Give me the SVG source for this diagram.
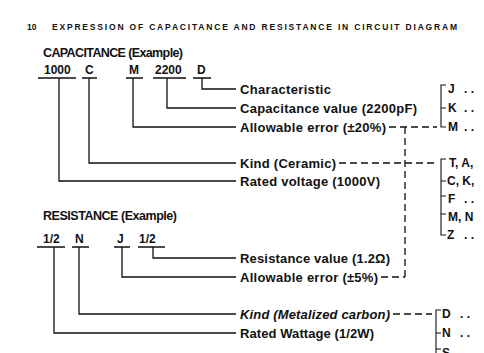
<svg xmlns="http://www.w3.org/2000/svg" width="484" height="353" viewBox="0 0 484 353">
<style>
.t{font-family:"Liberation Sans",Arial,sans-serif;font-weight:bold;fill:#111}
.ttl{font-size:8.5px}
.hd{font-size:12.5px}
.code{font-size:12px}
.lbl{font-size:13px}
.opt{font-size:12px}
.it{font-style:italic}
.ln{stroke:#111;stroke-width:1.3;fill:none}
.ul{stroke:#111;stroke-width:1.6;fill:none}
.dash{stroke:#111;stroke-width:1.3;fill:none;stroke-dasharray:7 4}
.br{stroke:#111;stroke-width:1.1;fill:none}
</style>
<rect width="484" height="353" fill="#fff"/>
<g id="title">
<text class="t ttl" x="27" y="30">10</text>
<text class="t ttl" x="52" y="30" textLength="405" lengthAdjust="spacing">EXPRESSION OF CAPACITANCE AND RESISTANCE IN CIRCUIT DIAGRAM</text>
</g>
<g id="cap-head"><text class="t hd" x="43" y="57" textLength="140" lengthAdjust="spacing">CAPACITANCE (Example)</text></g>
<g id="res-head"><text class="t hd" x="43" y="220" textLength="134" lengthAdjust="spacing">RESISTANCE (Example)</text></g>
<g id="c-1000"><text class="t code" x="44" y="74">1000</text></g>
<g id="c-C"><text class="t code" x="85" y="74">C</text></g>
<g id="c-M"><text class="t code" x="129" y="74">M</text></g>
<g id="c-2200"><text class="t code" x="155" y="74">2200</text></g>
<g id="c-D"><text class="t code" x="197" y="74">D</text></g>
<g id="r-half1"><text class="t code" x="43" y="243">1/2</text></g>
<g id="r-N"><text class="t code" x="75" y="243">N</text></g>
<g id="r-J"><text class="t code" x="117" y="243">J</text></g>
<g id="r-half2"><text class="t code" x="139" y="243">1/2</text></g>
<g id="l-char"><text class="t lbl" x="240" y="93.5" textLength="91" lengthAdjust="spacing">Characteristic</text></g>
<g id="l-capval"><text class="t lbl" x="240" y="112.5" textLength="177" lengthAdjust="spacing">Capacitance value (2200pF)</text></g>
<g id="l-err20"><text class="t lbl" x="240" y="131.5" textLength="146" lengthAdjust="spacing">Allowable error (±20%)</text></g>
<g id="l-kindc"><text class="t lbl" x="240" y="167.5" textLength="96" lengthAdjust="spacing">Kind (Ceramic)</text></g>
<g id="l-volt"><text class="t lbl" x="240" y="185.5" textLength="140" lengthAdjust="spacing">Rated voltage (1000V)</text></g>
<g id="l-resval"><text class="t lbl" x="240" y="262.5" textLength="150" lengthAdjust="spacing">Resistance value (1.2Ω)</text></g>
<g id="l-err5"><text class="t lbl" x="240" y="281.5" textLength="138" lengthAdjust="spacing">Allowable error (±5%)</text></g>
<g id="l-kindm"><text class="t lbl it" x="240" y="318.5" textLength="150" lengthAdjust="spacing">Kind (Metalized carbon)</text></g>
<g id="l-watt"><text class="t lbl" x="240" y="337.5" textLength="134" lengthAdjust="spacing">Rated Wattage (1/2W)</text></g>
<g id="o-err">
<path class="br" d="M446 85 H441 V127 H446 M441 108 H446"/>
<text class="t opt" x="448" y="93">J</text><text class="t opt" x="464" y="93">. .</text>
<text class="t opt" x="448" y="112">K</text><text class="t opt" x="464" y="112">. .</text>
<text class="t opt" x="448" y="131">M</text><text class="t opt" x="464" y="131">. .</text>
</g>
<g id="o-kind">
<path class="br" d="M446 159 H441 V235 H446 M441 181 H446 M441 196 H446 M441 214 H446"/>
<text class="t opt" x="449" y="167">T, A,</text>
<text class="t opt" x="447" y="185">C, K,</text>
<text class="t opt" x="448" y="203">F</text><text class="t opt" x="464" y="203">. .</text>
<text class="t opt" x="448" y="221">M, N</text>
<text class="t opt" x="447" y="239">Z</text><text class="t opt" x="464" y="239">. .</text>
</g>
<g id="o-kindm">
<path class="br" d="M441 310 H436 V353 M436 333 H441 M436 349 H441"/>
<text class="t opt" x="442" y="318">D</text><text class="t opt" x="460" y="318">. .</text>
<text class="t opt" x="442" y="337">N</text><text class="t opt" x="460" y="337">. .</text>
<text class="t opt" x="442" y="357">S</text>
</g>
<g id="connectors">
<path class="ul" d="M38 78 H76 M82 78 H97 M126 78 H143 M153 78 H186 M193 78 H211"/>
<path class="ln" d="M202 78 V89 H236 M167 78 V108 H236 M133 78 V127 H236 M89 78 V163 H236 M59 78 V181 H236"/>
<path class="ul" d="M37 247 H65 M72 247 H89 M114 247 H130 M138 247 H165"/>
<path class="ln" d="M153 247 V258 H236 M122 247 V277 H236 M79 247 V314 H236 M54 247 V333 H236"/>
<path class="dash" d="M389 127 H437 M339 163 H437 M381 277 H405 M393 314 H432"/>
<path class="dash" d="M405 127 V277"/>
</g>
</svg>
